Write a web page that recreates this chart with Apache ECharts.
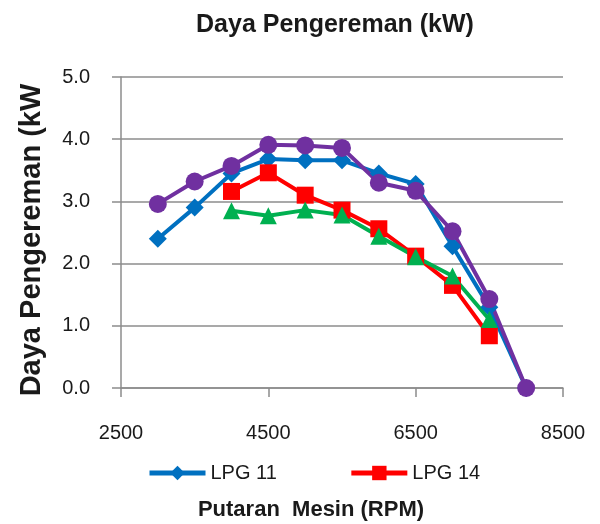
<!DOCTYPE html>
<html>
<head>
<meta charset="utf-8">
<style>
  html, body { margin: 0; padding: 0; background: #fff; }
  #chart { width: 600px; height: 524px; }
</style>
<script src="https://cdn.jsdelivr.net/npm/echarts@6/dist/echarts.min.js"></script>
</head>
<body>
<div id="chart"></div>
<script>
// putaran mesin (RPM)
const rpmAll = [3000, 3500, 4000, 4500, 5000, 5500, 6000, 6500, 7000, 7500, 8000]
const rpmMid = [4000, 4500, 5000, 5500, 6000, 6500, 7000, 7500]

// daya pengereman (kW)
const lpg11 = [2.40, 2.90, 3.45, 3.68, 3.66, 3.66, 3.45, 3.28, 2.28, 1.30, 0.0]
const lpg14 = [3.16, 3.46, 3.10, 2.86, 2.56, 2.12, 1.65, 0.84]
const lpg17 = [2.85, 2.77, 2.86, 2.78, 2.44, 2.11, 1.80, 1.10]
const lpg20 = [2.96, 3.32, 3.57, 3.91, 3.90, 3.86, 3.30, 3.17, 2.52, 1.43, 0.0]

const xTicks = [2500, 4500, 6500, 8500]
const yTicks = [0, 1, 2, 3, 4, 5]

const pairs = (xs, ys) => xs.map((x, i) => [x, ys[i]])

const FONT = '"Liberation Sans", Arial, sans-serif'
const gridColor = '#8c8c8c'
const textColor = '#1a1a1a'

const chart = echarts.init(document.getElementById('chart'), null, { renderer: 'canvas' })

const mkSeries = (name, xs, ys, color, symbol, size) => ({
  name,
  type: 'line',
  data: pairs(xs, ys),
  symbol,
  symbolSize: size,
  showAllSymbol: true,
  lineStyle: { color, width: 4 },
  itemStyle: { color },
  animation: false,
})

chart.setOption({
  animation: false,
  grid: { left: 121, right: 37, top: 77, bottom: 136 },
  graphic: [
    {
      type: 'text', x: 335, y: 25,
      style: { text: 'Daya Pengereman (kW)', textAlign: 'center', textVerticalAlign: 'middle',
        font: 'bold 25px ' + FONT, fill: textColor },
    },
    {
      type: 'text', x: 32, y: 240, rotation: Math.PI / 2,
      style: { text: 'Daya Pengereman (kW', textAlign: 'center', textVerticalAlign: 'middle',
        font: 'bold 29px ' + FONT, fill: textColor },
    },
    {
      type: 'text', x: 311, y: 510,
      style: { text: 'Putaran  Mesin (RPM)', textAlign: 'center', textVerticalAlign: 'middle',
        font: 'bold 22px ' + FONT, fill: textColor },
    },
  ],
  legend: {
    data: [
      { name: 'LPG 11', lineStyle: { width: 5 } },
      { name: 'LPG 14', lineStyle: { width: 5 } },
    ],
    left: 147,
    top: 463,
    padding: 0,
    itemWidth: 56,
    itemHeight: 18,
    itemGap: 72,
    textStyle: { fontFamily: FONT, fontSize: 20, color: textColor },
  },
  xAxis: {
    type: 'value',
    min: xTicks[0],
    max: xTicks[xTicks.length - 1],
    interval: 2000,
    axisLine: { lineStyle: { color: gridColor, width: 1.5 } },
    axisTick: { show: true, length: 9, lineStyle: { color: gridColor, width: 1.5 } },
    axisLabel: { fontFamily: FONT, fontSize: 20, color: textColor, margin: 35,
      formatter: (v) => String(v) },
    splitLine: { show: false },
  },
  yAxis: {
    type: 'value',
    min: yTicks[0],
    max: yTicks[yTicks.length - 1],
    interval: 1,
    axisLine: { show: true, lineStyle: { color: gridColor, width: 1.5 } },
    axisTick: { show: true, length: 9, lineStyle: { color: gridColor, width: 1.5 } },
    axisLabel: { fontFamily: FONT, fontSize: 20, color: textColor, margin: 31,
      formatter: (v) => v.toFixed(1) },
    splitLine: { show: true, lineStyle: { color: gridColor, width: 1.5 } },
  },
  series: [
    mkSeries('LPG 11', rpmAll, lpg11, '#0070C0', 'diamond', 18),
    mkSeries('LPG 14', rpmMid, lpg14, '#FF0000', 'rect', 17),
    mkSeries('LPG 17', rpmMid, lpg17, '#00B050', 'triangle', 17),
    mkSeries('LPG 20', rpmAll, lpg20, '#7030A0', 'circle', 18),
  ],
})
</script>
</body>
</html>
